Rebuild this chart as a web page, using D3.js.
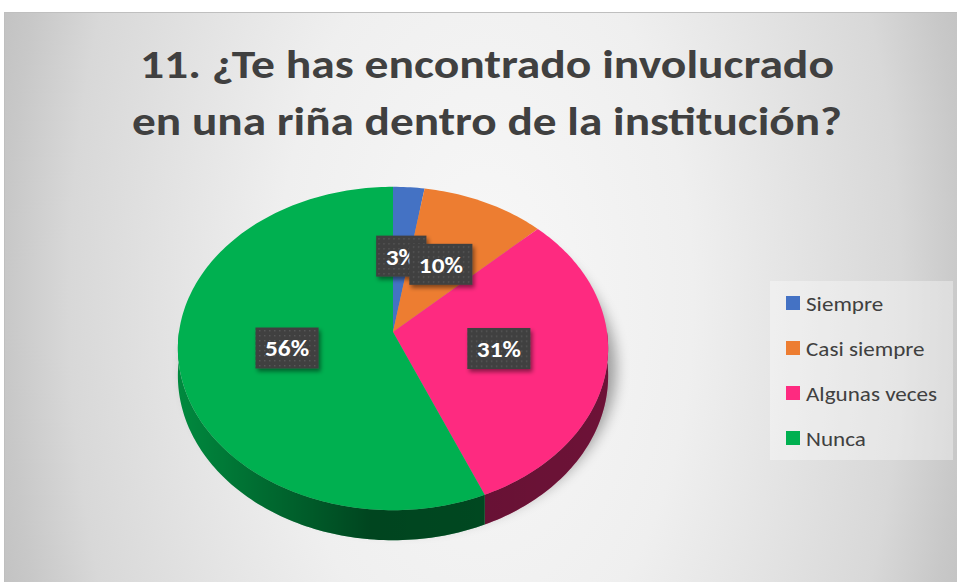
<!DOCTYPE html>
<html>
<head>
<meta charset="utf-8">
<script src="https://cdn.jsdelivr.net/npm/d3@7"></script>
<style>
  body { margin: 0; background: #fff; }
  svg { display: block; }
</style>
</head>
<body>
<svg></svg>
<script>
const titleLines = ["11. ¿Te has encontrado involucrado", "en una riña dentro de la institución?"];
const categories = ["Siempre", "Casi siempre", "Algunas veces", "Nunca"];
const values = [2.6, 10.3, 30.8, 56.4];
const colors = ["#4472C4", "#ED7D31", "#FE2A80", "#00B050"];

const W = 957, H = 582;
const font = "Carlito, Calibri, Lato, sans-serif";

// pie geometry (perspective tilt)
const cx = 393, cy = 332, A = 214, B = 160, k = 0.102, depth = 27;

function proj(theta, r) {
  const u = Math.sin(theta) * r, v = -Math.cos(theta) * r;
  const d = 1 - k * v;
  return [cx + A * u / d, cy + B * v / d, d];
}

const svg = d3.select("svg").attr("width", W).attr("height", H);
const defs = svg.append("defs");

const bg = defs.append("radialGradient")
  .attr("id", "bg")
  .attr("gradientUnits", "userSpaceOnUse")
  .attr("cx", 485).attr("cy", 300).attr("r", 520)
  .attr("gradientTransform", "translate(485,300) scale(1,1.8) translate(-485,-300)");
[[0, "#f8f8f8"], [0.4, "#efefef"], [0.8, "#d8d8d8"], [0.92, "#c8c8c8"], [1, "#c0c0c0"]]
  .forEach(s => bg.append("stop").attr("offset", s[0]).attr("stop-color", s[1]));

const sideShade = defs.append("linearGradient")
  .attr("id", "sideShade")
  .attr("gradientUnits", "userSpaceOnUse")
  .attr("x1", cx - A).attr("x2", cx + A).attr("y1", 0).attr("y2", 0);
[[0, 0], [0.45, 0.5], [1, 0.45]]
  .forEach(s => sideShade.append("stop").attr("offset", s[0]).attr("stop-color", "#000").attr("stop-opacity", s[1]));

defs.append("filter").attr("id", "blur").attr("x", "-20%").attr("y", "-20%").attr("width", "140%").attr("height", "140%")
  .append("feGaussianBlur").attr("stdDeviation", 7);

defs.append("filter").attr("id", "boxShadow").attr("x", "-30%").attr("y", "-30%").attr("width", "160%").attr("height", "160%")
  .append("feDropShadow").attr("dx", 2).attr("dy", 3).attr("stdDeviation", 2)
  .attr("flood-color", "#000").attr("flood-opacity", 0.45);

const pat = defs.append("pattern").attr("id", "dots")
  .attr("patternUnits", "userSpaceOnUse").attr("width", 5).attr("height", 5);
pat.append("rect").attr("width", 5).attr("height", 5).attr("fill", "#404040");
pat.append("rect").attr("x", 2).attr("y", 2).attr("width", 1.4).attr("height", 1.4).attr("fill", "#5a5a5a");

defs.append("clipPath").attr("id", "shadowClip")
  .append("rect").attr("x", 0).attr("y", 0).attr("width", W).attr("height", 553);

// chart area
svg.append("rect")
  .attr("x", 4.5).attr("y", 12.5).attr("width", W).attr("height", H)
  .attr("fill", "url(#bg)").attr("stroke", "#bfbfbf");

// title (stretched to the width of the original Calibri lines)
const titleWidths = [694, 710];
svg.append("g").selectAll("text")
  .data(titleLines)
  .join("text")
    .attr("x", 487)
    .attr("y", (d, i) => 78 + i * 57)
    .attr("text-anchor", "middle")
    .attr("font-family", font)
    .attr("font-weight", "bold")
    .attr("font-size", 41)
    .attr("fill", "#404040")
    .attr("textLength", (d, i) => titleWidths[i])
    .attr("lengthAdjust", "spacingAndGlyphs")
    .text(d => d);

const pie = d3.pie().sort(null).value(d => d);
const arcs = pie(values);
const color = d3.scaleOrdinal().domain(categories).range(colors);
const total = d3.sum(values);
const pct = d3.format(".0%");

function arcPoints(a0, a1, r) {
  const n = Math.max(2, Math.ceil((a1 - a0) / 0.02));
  return d3.range(n + 1).map(i => proj(a0 + (a1 - a0) * i / n, r));
}

// shadow under pie
const outline = arcPoints(0, 2 * Math.PI, 1);
svg.append("g").attr("clip-path", "url(#shadowClip)")
  .append("path")
    .attr("d", d3.line()(outline.map(p => [p[0] + 8, p[1] + 20])) + "Z")
    .attr("fill", "#000")
    .attr("opacity", 0.35)
    .attr("filter", "url(#blur)");

// sides (front half only)
const sides = svg.append("g");
arcs.forEach((a, i) => {
  const s = Math.max(a.startAngle, Math.PI / 2);
  const e = Math.min(a.endAngle, Math.PI * 1.5);
  if (e <= s) return;
  const top = arcPoints(s, e, 1);
  const bottom = top.map(p => [p[0], p[1] + depth / p[2]]).reverse();
  const d = d3.line()(top.map(p => [p[0], p[1]]).concat(bottom)) + "Z";
  const base = d3.color(color(categories[i])).darker(0.7);
  sides.append("path").attr("d", d).attr("fill", base);
  sides.append("path").attr("d", d).attr("fill", "url(#sideShade)");
});

// top face
svg.append("g").selectAll("path")
  .data(arcs)
  .join("path")
    .attr("d", a => d3.line()([[cx, cy]].concat(arcPoints(a.startAngle, a.endAngle, 1).map(p => [p[0], p[1]]))) + "Z")
    .attr("fill", (a, i) => color(categories[i]));

// data labels
const labels = svg.append("g");
arcs.forEach(a => {
  const mid = (a.startAngle + a.endAngle) / 2;
  const p = proj(mid, 0.5);
  const g = labels.append("g").attr("transform", `translate(${p[0]},${p[1]})`);
  const box = g.append("rect").attr("fill", "url(#dots)").attr("filter", "url(#boxShadow)");
  const t = g.append("text")
    .attr("text-anchor", "middle")
    .attr("y", 8.5)
    .attr("font-family", font)
    .attr("font-weight", "bold")
    .attr("font-size", 23)
    .attr("fill", "#fff")
    .text(pct(a.data / total));
  const len = t.node().getComputedTextLength();
  t.attr("textLength", len * 1.1).attr("lengthAdjust", "spacingAndGlyphs");
  const w = len * 1.1 + 19;
  box.attr("x", -w / 2).attr("y", -20.5).attr("width", w).attr("height", 41);
});

// legend
svg.append("rect")
  .attr("x", 770).attr("y", 281).attr("width", 183).attr("height", 179)
  .attr("fill", "#ffffff").attr("opacity", 0.35);

const legend = svg.append("g").selectAll("g")
  .data(categories)
  .join("g")
    .attr("transform", (d, i) => `translate(786,${303 + i * 45})`);
legend.append("rect")
  .attr("x", 0).attr("y", -7).attr("width", 14).attr("height", 14)
  .attr("fill", d => color(d));
legend.append("text")
  .attr("x", 20).attr("y", 7.5)
  .attr("font-family", font)
  .attr("font-size", 21)
  .attr("fill", "#404040")
  .text(d => d)
  .each(function () {
    const len = this.getComputedTextLength();
    d3.select(this).attr("textLength", len * 1.1).attr("lengthAdjust", "spacingAndGlyphs");
  });
</script>
</body>
</html>
